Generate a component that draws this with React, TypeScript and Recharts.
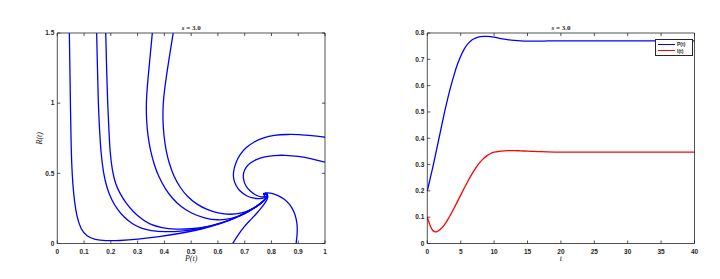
import React from 'react';
import { LineChart, Line, XAxis, YAxis, Legend, Label } from 'recharts';

// phase portrait: trajectories in the (P, R) plane, [P, R] pairs
const traj1: [number, number][] = [
  [0.045, 1.5], [0.047, 1.25], [0.049, 1.0], [0.051, 0.75], [0.054, 0.55], [0.058, 0.42],
  [0.064, 0.3], [0.073, 0.19], [0.088, 0.1], [0.11, 0.05], [0.14, 0.028], [0.18, 0.019],
  [0.23, 0.02], [0.3, 0.03], [0.38, 0.048], [0.46, 0.072], [0.54, 0.102], [0.61, 0.14],
  [0.67, 0.185], [0.715, 0.23], [0.75, 0.27], [0.772, 0.305], [0.784, 0.33], [0.786, 0.352],
  [0.776, 0.36], [0.768, 0.35], [0.776, 0.346],
];
const traj2: [number, number][] = [
  [0.147, 1.5], [0.15, 1.25], [0.153, 1.0], [0.158, 0.8], [0.163, 0.65], [0.172, 0.5],
  [0.186, 0.39], [0.203, 0.31], [0.225, 0.24], [0.25, 0.185], [0.28, 0.14], [0.31, 0.11],
  [0.35, 0.09], [0.4, 0.082], [0.47, 0.088], [0.54, 0.108], [0.61, 0.143], [0.67, 0.186],
  [0.715, 0.23], [0.75, 0.27], [0.772, 0.305], [0.784, 0.33], [0.786, 0.352], [0.776, 0.36],
  [0.768, 0.35], [0.776, 0.346],
];
const traj3: [number, number][] = [
  [0.181, 1.5], [0.184, 1.25], [0.188, 1.0], [0.193, 0.8], [0.197, 0.65], [0.205, 0.52],
  [0.218, 0.42], [0.234, 0.357], [0.257, 0.285], [0.284, 0.225], [0.315, 0.175], [0.346, 0.135],
  [0.39, 0.112], [0.44, 0.1], [0.5, 0.103], [0.56, 0.118], [0.62, 0.148], [0.67, 0.188],
  [0.715, 0.232], [0.75, 0.272], [0.772, 0.306], [0.784, 0.33], [0.786, 0.352], [0.776, 0.36],
  [0.768, 0.35], [0.776, 0.346],
];
const traj4: [number, number][] = [
  [0.355, 1.5], [0.345, 1.3], [0.336, 1.12], [0.332, 1.0], [0.333, 0.88], [0.338, 0.77],
  [0.348, 0.66], [0.362, 0.56], [0.38, 0.47], [0.403, 0.39], [0.43, 0.32], [0.46, 0.265],
  [0.5, 0.215], [0.55, 0.18], [0.6, 0.165], [0.65, 0.175], [0.7, 0.21], [0.74, 0.255],
  [0.768, 0.298], [0.784, 0.33], [0.786, 0.352], [0.776, 0.36], [0.768, 0.35], [0.776, 0.346],
];
const traj5: [number, number][] = [
  [0.433, 1.5], [0.416, 1.3], [0.402, 1.12], [0.395, 1.0], [0.394, 0.88], [0.398, 0.77],
  [0.406, 0.66], [0.418, 0.57], [0.435, 0.48], [0.458, 0.4], [0.485, 0.335], [0.52, 0.28],
  [0.56, 0.24], [0.6, 0.215], [0.645, 0.205], [0.69, 0.215], [0.73, 0.245], [0.76, 0.285],
  [0.78, 0.32], [0.786, 0.345], [0.78, 0.36], [0.77, 0.355], [0.776, 0.346],
];
const traj6: [number, number][] = [
  [1.0, 0.757], [0.95, 0.77], [0.9, 0.777], [0.857, 0.778], [0.81, 0.772], [0.77, 0.755],
  [0.735, 0.725], [0.705, 0.685], [0.682, 0.635], [0.666, 0.575], [0.657, 0.51], [0.658, 0.46],
  [0.666, 0.415], [0.682, 0.372], [0.705, 0.34], [0.73, 0.322], [0.755, 0.318], [0.776, 0.326],
  [0.786, 0.342], [0.78, 0.357], [0.768, 0.353], [0.776, 0.346],
];
const traj7: [number, number][] = [
  [1.0, 0.58], [0.95, 0.605], [0.9, 0.622], [0.85, 0.63], [0.81, 0.628], [0.775, 0.618],
  [0.745, 0.6], [0.72, 0.575], [0.703, 0.54], [0.694, 0.5], [0.695, 0.455], [0.703, 0.41],
  [0.72, 0.372], [0.742, 0.343], [0.762, 0.33], [0.78, 0.334], [0.787, 0.348], [0.779, 0.358],
  [0.77, 0.352], [0.776, 0.346],
];
const traj8: [number, number][] = [
  [0.655, 0], [0.675, 0.06], [0.697, 0.118], [0.72, 0.165], [0.745, 0.215], [0.765, 0.26],
  [0.78, 0.3], [0.788, 0.33], [0.785, 0.352], [0.774, 0.356], [0.772, 0.347],
];
const traj9: [number, number][] = [
  [0.892, 0], [0.896, 0.06], [0.897, 0.12], [0.893, 0.175], [0.885, 0.225], [0.869, 0.28],
  [0.848, 0.318], [0.825, 0.343], [0.8, 0.36], [0.782, 0.363], [0.772, 0.354], [0.776, 0.346],
];
const trajectories = [traj1, traj2, traj3, traj4, traj5, traj6, traj7, traj8, traj9];

// time series
const tValues = [
  0, 0.25, 0.5, 0.75, 1, 1.25, 1.5, 2, 2.5, 3, 3.5, 4, 4.5, 5, 5.5, 6, 6.5, 7, 7.5, 8, 8.5,
  9, 9.5, 10, 11, 12, 13, 14, 15, 16, 17, 18, 20, 22, 25, 30, 35, 40,
];
const pValues = [
  0.2, 0.227, 0.255, 0.282, 0.31, 0.34, 0.37, 0.43, 0.49, 0.545, 0.595, 0.64, 0.68, 0.712,
  0.738, 0.757, 0.77, 0.778, 0.783, 0.786, 0.787, 0.787, 0.786, 0.784, 0.779, 0.775, 0.772,
  0.77, 0.769, 0.769, 0.769, 0.77, 0.77, 0.77, 0.77, 0.77, 0.77, 0.77,
];
const iValues = [
  0.1, 0.08, 0.064, 0.052, 0.046, 0.044, 0.046, 0.055, 0.069, 0.088, 0.11, 0.134, 0.159,
  0.184, 0.209, 0.233, 0.256, 0.277, 0.296, 0.312, 0.325, 0.335, 0.342, 0.347, 0.351, 0.353,
  0.353, 0.352, 0.351, 0.35, 0.349, 0.348, 0.347, 0.347, 0.347, 0.347, 0.347, 0.347,
];
const seriesNames = ['P(t)', 'I(t)'];

const pTicks = [0, 0.1, 0.2, 0.3, 0.4, 0.5, 0.6, 0.7, 0.8, 0.9, 1];
const rTicks = [0, 0.5, 1, 1.5];
const tTicks = [0, 5, 10, 15, 20, 25, 30, 35, 40];
const yTicks = [0, 0.1, 0.2, 0.3, 0.4, 0.5, 0.6, 0.7, 0.8];

const timeData = tValues.map((t, i) => ({ t, P: pValues[i], I: iValues[i] }));
const toPoints = (pairs: [number, number][]) => pairs.map(([p, r]) => ({ p, r }));

const AXIS = '#262626';
const GAP = 3;
const TICK_LEN = 3;
const SANS = '"Liberation Sans", Arial, sans-serif';
const SERIF = '"Liberation Serif", "Times New Roman", serif';

const BottomTick = (props: any) => {
  const { x, y, payload } = props;
  const axisY = y - GAP;
  return (
    <g>
      <line x1={x} x2={x} y1={axisY} y2={axisY - TICK_LEN} stroke={AXIS} strokeWidth={0.8} />
      <text x={x} y={axisY + 10} textAnchor="middle" fontSize={6.5} fontWeight="bold" fill={AXIS} fontFamily={SANS}>
        {payload.value}
      </text>
    </g>
  );
};

const LeftTick = (props: any) => {
  const { x, y, payload } = props;
  const axisX = x + GAP;
  return (
    <g>
      <line x1={axisX} x2={axisX + TICK_LEN} y1={y} y2={y} stroke={AXIS} strokeWidth={0.8} />
      <text x={axisX - 3} y={y + 2.3} textAnchor="end" fontSize={6.5} fontWeight="bold" fill={AXIS} fontFamily={SANS}>
        {payload.value}
      </text>
    </g>
  );
};

const TopTick = (props: any) => {
  const { x, y } = props;
  const axisY = y + GAP;
  return <line x1={x} x2={x} y1={axisY} y2={axisY + TICK_LEN} stroke={AXIS} strokeWidth={0.8} />;
};

const RightTick = (props: any) => {
  const { x, y } = props;
  const axisX = x - GAP;
  return <line x1={axisX} x2={axisX - TICK_LEN} y1={y} y2={y} stroke={AXIS} strokeWidth={0.8} />;
};

const Title = ({ viewBox }: any) => (
  <text
    x={viewBox.x + viewBox.width / 2}
    y={viewBox.y + viewBox.height - 3}
    textAnchor="middle"
    fontSize={7}
    fontWeight="bold"
    fill={AXIS}
    fontFamily={SERIF}
  >
    <tspan fontStyle="italic">s</tspan> = 3.0
  </text>
);

const xLabel = (text: string) => ({ viewBox }: any) => (
  <text
    x={viewBox.x + viewBox.width / 2}
    y={viewBox.y + 17.5}
    textAnchor="middle"
    fontSize={8}
    fontStyle="italic"
    fill={AXIS}
    fontFamily={SERIF}
  >
    {text}
  </text>
);

const RLabel = ({ viewBox }: any) => {
  const cx = 39;
  const cy = viewBox.y + viewBox.height / 2;
  return (
    <text
      x={cx}
      y={cy}
      transform={`rotate(-90, ${cx}, ${cy})`}
      textAnchor="middle"
      dominantBaseline="central"
      fontSize={8}
      fontStyle="italic"
      fill={AXIS}
      fontFamily={SERIF}
    >
      R(t)
    </text>
  );
};

// keep the legend in series order (Recharts sorts by value otherwise)
const LegendBox = ({ payload }: any) => {
  const items = [...(payload || [])].sort(
    (a: any, b: any) => seriesNames.indexOf(a.value) - seriesNames.indexOf(b.value),
  );
  return (
    <div style={{ border: `1px solid ${AXIS}`, background: '#fff', padding: '1px 2px', boxSizing: 'border-box', width: 38 }}>
      {items.map((e: any) => (
        <div
          key={e.value}
          style={{ display: 'flex', alignItems: 'center', height: 6.5, fontSize: 5, fontWeight: 'bold', fontFamily: SANS, color: AXIS }}
        >
          <span style={{ display: 'inline-block', width: 17, borderTop: `1.3px solid ${e.color}`, marginRight: 2 }} />
          {e.value}
        </div>
      ))}
    </div>
  );
};

export default function App() {
  return (
    <div style={{ position: 'absolute', left: 0, top: 0, width: 720, height: 279, background: '#fff' }}>
      <div style={{ position: 'absolute', left: 0, top: 0 }}>
        <LineChart width={360} height={279} margin={{ top: 0, right: 0, bottom: 0, left: 0 }}>
          <XAxis xAxisId="b" type="number" dataKey="p" domain={[0, 1]} ticks={pTicks} orientation="bottom"
            height={35.5} tickSize={0} tickMargin={GAP} tickLine={false} tick={<BottomTick />}
            axisLine={{ stroke: AXIS, strokeWidth: 0.8 }} allowDataOverflow>
            <Label content={xLabel('P(t)')} />
          </XAxis>
          <XAxis xAxisId="t" type="number" dataKey="p" domain={[0, 1]} ticks={pTicks} orientation="top"
            height={33} tickSize={0} tickMargin={GAP} tickLine={false} tick={<TopTick />}
            axisLine={{ stroke: AXIS, strokeWidth: 0.8 }} allowDataOverflow>
            <Label content={<Title />} />
          </XAxis>
          <YAxis yAxisId="l" type="number" dataKey="r" domain={[0, 1.5]} ticks={rTicks} orientation="left"
            width={57.3} tickSize={0} tickMargin={GAP} tickLine={false} tick={<LeftTick />}
            axisLine={{ stroke: AXIS, strokeWidth: 0.8 }} allowDataOverflow>
            <Label content={<RLabel />} />
          </YAxis>
          <YAxis yAxisId="r" type="number" dataKey="r" domain={[0, 1.5]} ticks={rTicks} orientation="right"
            width={35} tickSize={0} tickMargin={GAP} tickLine={false} tick={<RightTick />}
            axisLine={{ stroke: AXIS, strokeWidth: 0.8 }} allowDataOverflow />
          {trajectories.map((tr, i) => (
            <Line key={i} xAxisId="b" yAxisId="l" data={toPoints(tr)} dataKey="r" type="basis"
              stroke="#0000ff" strokeWidth={1.3} dot={false} activeDot={false} isAnimationActive={false} />
          ))}
        </LineChart>
      </div>
      <div style={{ position: 'absolute', left: 360, top: 0 }}>
        <LineChart width={360} height={279} data={timeData} margin={{ top: 0, right: 0, bottom: 0, left: 0 }}>
          <XAxis xAxisId="b" type="number" dataKey="t" domain={[0, 40]} ticks={tTicks} orientation="bottom"
            height={35.5} tickSize={0} tickMargin={GAP} tickLine={false} tick={<BottomTick />}
            axisLine={{ stroke: AXIS, strokeWidth: 0.8 }}>
            <Label content={xLabel('t')} />
          </XAxis>
          <XAxis xAxisId="t" type="number" dataKey="t" domain={[0, 40]} ticks={tTicks} orientation="top"
            height={33} tickSize={0} tickMargin={GAP} tickLine={false} tick={<TopTick />}
            axisLine={{ stroke: AXIS, strokeWidth: 0.8 }}>
            <Label content={<Title />} />
          </XAxis>
          <YAxis yAxisId="l" type="number" domain={[0, 0.8]} ticks={yTicks} orientation="left"
            width={67.3} tickSize={0} tickMargin={GAP} tickLine={false} tick={<LeftTick />}
            axisLine={{ stroke: AXIS, strokeWidth: 0.8 }} />
          <YAxis yAxisId="r" type="number" domain={[0, 0.8]} ticks={yTicks} orientation="right"
            width={25.5} tickSize={0} tickMargin={GAP} tickLine={false} tick={<RightTick />}
            axisLine={{ stroke: AXIS, strokeWidth: 0.8 }} />
          <Line xAxisId="b" yAxisId="l" dataKey="P" name={seriesNames[0]} type="monotone" stroke="#0000ff"
            strokeWidth={1.3} dot={false} activeDot={false} isAnimationActive={false} />
          <Line xAxisId="b" yAxisId="l" dataKey="I" name={seriesNames[1]} type="monotone" stroke="#ff0000"
            strokeWidth={1.3} dot={false} activeDot={false} isAnimationActive={false} />
          <Legend content={<LegendBox />} layout="horizontal" align="center" verticalAlign="middle"
            wrapperStyle={{ left: 295, top: 39, width: 38 }} />
        </LineChart>
      </div>
    </div>
  );
}
